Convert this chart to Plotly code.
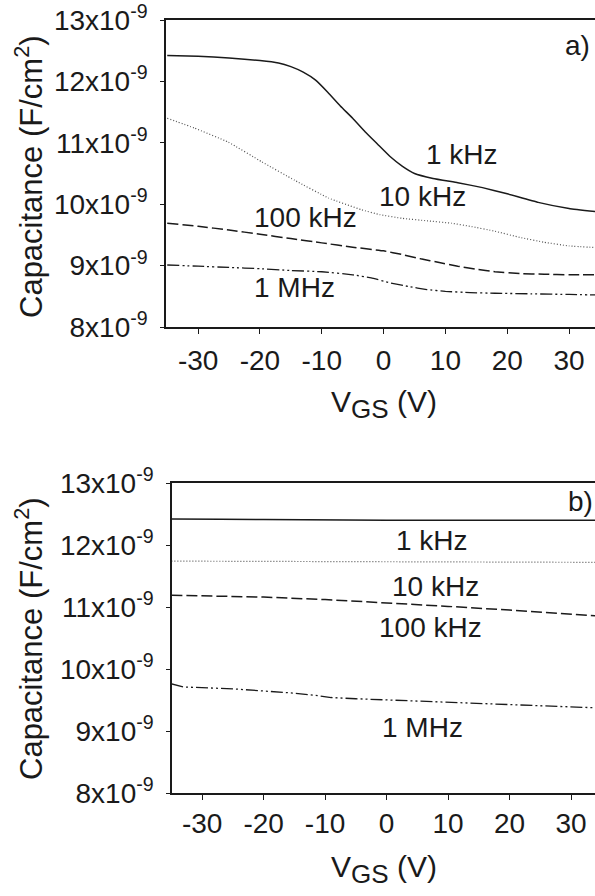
import plotly.graph_objects as go

W, H = 595, 896
FONT = "Liberation Sans, Arial, Helvetica, sans-serif"
INK = "#1a1a1a"

# ---------- data (capacitance in units of 1e-9 F/cm^2) ----------
# panel a
va_1k = [-35, -30, -25, -20, -17, -15, -13, -11, -9, -7, -5, -3, -1, 1, 3, 5, 8, 12, 16, 20, 25, 30, 35]
ca_1k = [12.42, 12.41, 12.38, 12.34, 12.30, 12.24, 12.15, 12.02, 11.82, 11.60, 11.40, 11.18, 10.98,
         10.78, 10.62, 10.50, 10.42, 10.35, 10.27, 10.17, 10.03, 9.93, 9.87]
va_10k = [-35, -30.6, -25.1, -19.7, -14.4, -8.9, -3.6, -0.6, 3, 7, 11, 14, 18, 22, 26, 30, 35]
ca_10k = [11.40, 11.24, 11.01, 10.69, 10.39, 10.10, 9.91, 9.83, 9.77, 9.73, 9.69, 9.64, 9.56,
          9.46, 9.38, 9.32, 9.29]
va_100k = [-35, -30, -25, -20, -15, -10, -5, 0, 3, 6, 9, 12, 15, 18, 22, 26, 30, 35]
ca_100k = [9.69, 9.64, 9.58, 9.51, 9.44, 9.37, 9.30, 9.24, 9.18, 9.11, 9.05, 8.99, 8.94, 8.90,
           8.87, 8.86, 8.85, 8.85]
va_1M = [-35, -30, -25, -20, -15, -10, -5, -2, 1, 4, 7, 10, 14, 18, 24, 30, 35]
ca_1M = [9.01, 8.99, 8.97, 8.95, 8.92, 8.90, 8.85, 8.80, 8.72, 8.66, 8.61, 8.58, 8.56, 8.55,
         8.54, 8.53, 8.52]

# panel b
vb_1k = [-35, -31, -29, -27, -20, -10, -8, -6, 0, 10, 20, 35]
cb_1k = [12.42, 12.42, 12.425, 12.415, 12.41, 12.40, 12.41, 12.40, 12.40, 12.40, 12.40, 12.40]
vb_10k = [-35, 0, 35]
cb_10k = [11.74, 11.73, 11.72]
vb_100k = [-35, -20, -10, 0, 10, 20, 30, 35]
cb_100k = [11.19, 11.16, 11.12, 11.07, 11.01, 10.95, 10.88, 10.85]
vb_1M = [-35, -34, -33, -25, -20, -15, -12, -9, -5, 0, 5, 10, 20, 30, 35]
cb_1M = [9.76, 9.73, 9.71, 9.68, 9.65, 9.61, 9.58, 9.54, 9.52, 9.50, 9.48, 9.46, 9.42, 9.39, 9.37]

x_ticks = [-30, -20, -10, 0, 10, 20, 30]
x_ticktext = ["-30", "-20", "-10", "0", "10", "20", "30"]
y_ticks = [8, 9, 10, 11, 12, 13]
y_ticktext = [f"{v}x10<sup>-9</sup>" for v in y_ticks]
freq_labels = ["1 kHz", "10 kHz", "100 kHz", "1 MHz"]

styles = {
    "1 kHz": dict(dash="solid", width=1.5, color=INK),
    "10 kHz": dict(dash="1px,2px", width=1.2, color="#555555"),
    "100 kHz": dict(dash="11px,4px", width=1.5, color=INK),
    "1 MHz": dict(dash="12px,3px,2px,3px,2px,3px", width=1.3, color=INK),
}

fig = go.Figure()
panel_a = [(va_1k, ca_1k), (va_10k, ca_10k), (va_100k, ca_100k), (va_1M, ca_1M)]
panel_b = [(vb_1k, cb_1k), (vb_10k, cb_10k), (vb_100k, cb_100k), (vb_1M, cb_1M)]
for lab, (x, y) in zip(freq_labels, panel_a):
    fig.add_trace(go.Scatter(x=x, y=y, mode="lines", line=dict(**styles[lab], shape="spline", smoothing=0.3),
                             xaxis="x", yaxis="y", showlegend=False, name=lab))
for lab, (x, y) in zip(freq_labels, panel_b):
    fig.add_trace(go.Scatter(x=x, y=y, mode="lines", line=dict(**styles[lab]),
                             xaxis="x2", yaxis="y2", showlegend=False, name=lab))

def px_x(p):
    return p / W

def px_y(p):
    return 1 - p / H

xcommon = dict(tickvals=x_ticks, ticktext=x_ticktext, ticks="outside", ticklen=5, tickwidth=1.2,
               tickcolor=INK, showline=True, linewidth=1.5, linecolor=INK, mirror=True, showgrid=False,
               zeroline=False, automargin=False,
               tickfont=dict(family=FONT, size=28, color=INK))
ycommon = dict(range=[8, 13], tickvals=y_ticks, ticktext=y_ticktext, ticks="outside", ticklen=4,
               tickwidth=1.2, tickcolor=INK, showline=True, linewidth=1.5, linecolor=INK,
               mirror=False, showgrid=False, zeroline=False, automargin=False,
               tickfont=dict(family=FONT, size=28, color=INK))

fig.update_layout(
    width=W, height=H,
    margin=dict(l=0, r=0, t=0, b=0),
    paper_bgcolor="white", plot_bgcolor="white",
    font=dict(family=FONT, color=INK),
    xaxis=dict(xcommon, domain=[px_x(166), 1], range=[-35.2, 34.2], anchor="y",
               ticklabelstandoff=3),
    yaxis=dict(ycommon, domain=[px_y(327), px_y(20)], anchor="x", ticklabelstandoff=7),
    xaxis2=dict(xcommon, domain=[px_x(172), 1], range=[-34.9, 33.9], anchor="y2",
                ticklabelstandoff=0),
    yaxis2=dict(ycommon, domain=[px_y(793), px_y(483)], anchor="x2", ticklabelstandoff=7),
)

ann = []
ytitle = "Capacitance (F/cm<sup>2</sup>)"
xtitle = "V<sub><span style='font-size:26px'>GS</span></sub> (V)"
ann.append(dict(text=ytitle, x=px_x(29), y=px_y(177), textangle=-90, font=dict(size=31)))
ann.append(dict(text=ytitle, x=px_x(29), y=px_y(639), textangle=-90, font=dict(size=31)))
ann.append(dict(text=xtitle, x=px_x(384), y=px_y(404), font=dict(size=30)))
ann.append(dict(text=xtitle, x=px_x(384), y=px_y(869), font=dict(size=30)))
# curve labels panel a
for t, xx, yy in [("1 kHz", 462, 155), ("10 kHz", 422, 197), ("100 kHz", 306, 218), ("1 MHz", 294, 287),
                  ("a)", 577, 45)]:
    ann.append(dict(text=t, x=px_x(xx), y=px_y(yy), font=dict(size=28)))
for t, xx, yy in [("1 kHz", 432, 540), ("10 kHz", 435, 586), ("100 kHz", 430, 627), ("1 MHz", 422, 727),
                  ("b)", 580, 502)]:
    ann.append(dict(text=t, x=px_x(xx), y=px_y(yy), font=dict(size=28)))
for a in ann:
    a.update(xref="paper", yref="paper", showarrow=False, xanchor="center", yanchor="middle")
    a["font"].update(family=FONT, color=INK)
fig.update_layout(annotations=ann)

fig.write_html("out.html")
